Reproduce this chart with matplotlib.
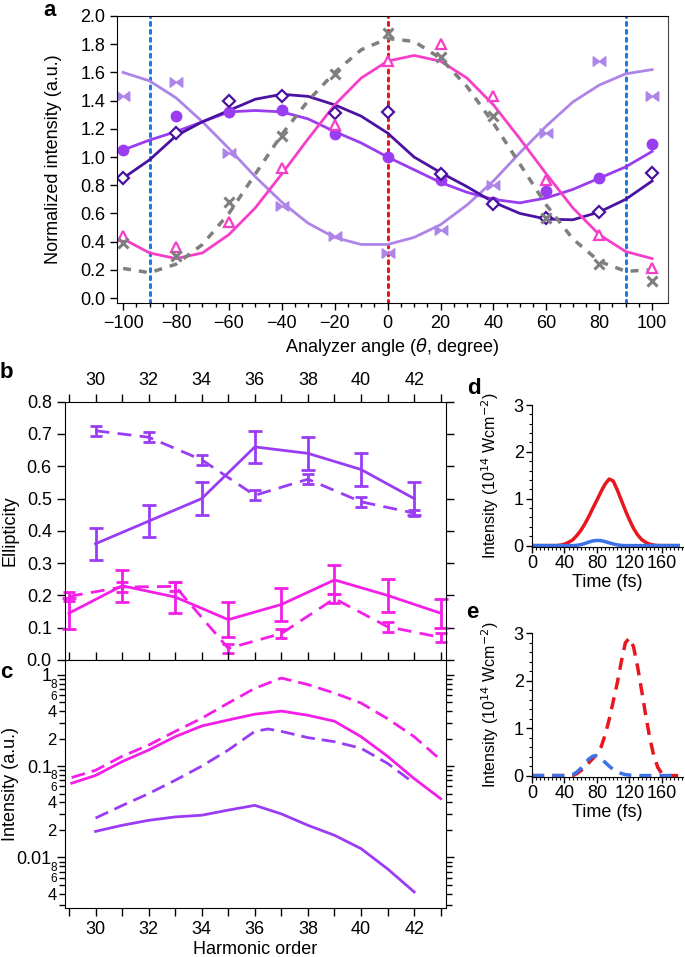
import numpy as np
import matplotlib
matplotlib.use('Agg')
from matplotlib import pyplot as plt
from matplotlib.path import Path

plt.rcParams['font.family'] = ['Liberation Sans', 'DejaVu Sans']
plt.rcParams['mathtext.fontset'] = 'dejavusans'

# ---------- panel a data ----------
theta_pts = [-100, -80, -60, -40, -20, 0, 20, 40, 60, 80, 100]
gray_pts = [0.39, 0.30, 0.68, 1.15, 1.59, 1.88, 1.71, 1.29, 0.57, 0.24, 0.12]
pink_pts = [0.44, 0.36, 0.54, 0.92, 1.23, 1.68, 1.80, 1.43, 0.84, 0.45, 0.21]
lav_pts = [1.43, 1.53, 1.03, 0.65, 0.44, 0.32, 0.48, 0.80, 1.17, 1.68, 1.43]
dark_pts = [0.85, 1.17, 1.40, 1.43, 1.31, 1.32, 0.88, 0.67, 0.57, 0.61, 0.89]
med_pts = [1.05, 1.29, 1.32, 1.33, 1.16, 1.00, 0.84, 0.68, 0.76, 0.85, 1.09]

theta_fit = [-100, -90, -80, -70, -60, -50, -40, -30, -20, -10, 0,
             10, 20, 30, 40, 50, 60, 70, 80, 90, 100]
gray_fit = [0.21, 0.18, 0.24, 0.38, 0.60, 0.88, 1.16, 1.40, 1.60, 1.76, 1.84,
            1.82, 1.70, 1.50, 1.24, 0.95, 0.66, 0.42, 0.26, 0.19, 0.20]
pink_fit = [0.42, 0.32, 0.28, 0.32, 0.45, 0.64, 0.88, 1.13, 1.37, 1.56, 1.68,
            1.72, 1.68, 1.56, 1.37, 1.13, 0.88, 0.64, 0.45, 0.33, 0.28]
lav_fit = [1.60, 1.54, 1.42, 1.25, 1.06, 0.86, 0.68, 0.53, 0.43, 0.38, 0.38,
           0.43, 0.52, 0.66, 0.83, 1.03, 1.22, 1.39, 1.51, 1.59, 1.62]
dark_fit = [0.85, 0.98, 1.15, 1.25, 1.33, 1.41, 1.445, 1.43, 1.37, 1.29, 1.17,
            1.00, 0.89, 0.79, 0.68, 0.60, 0.56, 0.555, 0.61, 0.70, 0.83]
med_fit = [1.05, 1.12, 1.18, 1.25, 1.32, 1.33, 1.32, 1.27, 1.18, 1.10, 1.00,
           0.91, 0.82, 0.75, 0.70, 0.675, 0.71, 0.77, 0.85, 0.93, 1.04]

# ---------- panel b data ----------
h_even = [30, 32, 34, 36, 38, 40, 42]
h_odd = [29, 31, 33, 35, 37, 39, 41, 43]
ell_p_solid = [0.36, 0.43, 0.50, 0.66, 0.64, 0.59, 0.50]
err_p_solid = [0.05, 0.05, 0.05, 0.05, 0.05, 0.05, 0.05]
ell_p_dash = [0.71, 0.69, 0.62, 0.51, 0.56, 0.49, 0.455]
err_p_dash = [0.015, 0.015, 0.015, 0.015, 0.015, 0.015, 0.01]
ell_m_solid = [0.145, 0.23, 0.195, 0.125, 0.172, 0.248, 0.20, 0.145]
err_m_solid = [0.048, 0.05, 0.048, 0.055, 0.052, 0.045, 0.052, 0.045]
ell_m_dash = [0.197, 0.226, 0.228, 0.036, 0.082, 0.19, 0.103, 0.07]
err_m_dash = [0.015, 0.015, 0.015, 0.015, 0.015, 0.015, 0.015, 0.015]

# ---------- panel c data ----------
hc_m = [29.1, 30, 31, 32, 33, 34, 35, 36, 37, 38, 39, 40, 41, 42, 43]
int_m_dash = [0.075, 0.090, 0.128, 0.17, 0.24, 0.334, 0.49, 0.71, 0.92, 0.78,
              0.63, 0.49, 0.33, 0.21, 0.117]
int_m_solid = [0.065, 0.079, 0.112, 0.15, 0.21, 0.275, 0.32, 0.37, 0.40, 0.36,
               0.31, 0.21, 0.128, 0.073, 0.044]
hc_p = [30, 31, 32, 33, 34, 35, 36, 36.5, 37, 38, 39, 40, 41, 42]
int_p_dash = [0.027, 0.037, 0.050, 0.070, 0.10, 0.15, 0.24, 0.255, 0.24, 0.205,
              0.185, 0.157, 0.107, 0.065]
hc_p2 = [30, 31, 32, 33, 34, 35, 36, 37, 38, 39, 40, 41, 42]
int_p_solid = [0.0193, 0.0225, 0.0255, 0.0278, 0.029, 0.033, 0.0372, 0.030,
               0.0225, 0.0175, 0.0125, 0.0075, 0.0042]

# ---------- panel d / e data ----------
t_red_d = [0, 30, 35, 40, 45, 50, 55, 60, 65, 70, 75, 80, 85, 90, 95, 100, 105,
           110, 115, 120, 125, 130, 135, 140, 145, 150, 155, 180]
red_d = [0, 0.0, 0.01, 0.03, 0.07, 0.12, 0.21, 0.32, 0.46, 0.62, 0.80, 0.97,
         1.15, 1.31, 1.42, 1.38, 1.19, 0.97, 0.75, 0.55, 0.37, 0.23, 0.13,
         0.07, 0.03, 0.01, 0.0, 0]
t_blue_d = [0, 50, 55, 60, 65, 70, 75, 80, 85, 90, 95, 100, 105, 110, 115, 180]
blue_d = [0, 0, 0.005, 0.02, 0.045, 0.075, 0.10, 0.11, 0.105, 0.085, 0.06,
          0.035, 0.015, 0.005, 0, 0]
t_red_e = [0, 50, 55, 60, 65, 70, 75, 80, 85, 90, 95, 100, 105, 110, 115, 120,
           125, 130, 135, 140, 145, 150, 155, 160, 165, 180]
red_e = [0, 0.0, 0.04, 0.10, 0.18, 0.27, 0.36, 0.45, 0.60, 0.85, 1.18, 1.56,
         1.95, 2.40, 2.80, 2.90, 2.72, 2.30, 1.80, 1.28, 0.80, 0.42, 0.17,
         0.04, 0.0, 0]
t_blue_e = [0, 45, 50, 55, 60, 65, 70, 75, 80, 85, 90, 95, 100, 105, 110, 115,
            120, 125, 180]
blue_e = [0, 0, 0.02, 0.07, 0.15, 0.25, 0.35, 0.41, 0.41, 0.36, 0.28, 0.20,
          0.13, 0.08, 0.045, 0.02, 0.01, 0.0, 0]

GRAY = '#7f7f7f'
PINK = '#f53fc8'
LAV = '#ad84e8'
DARK = '#4b12a2'
MED = '#9a3cf0'
PUR = '#9b3cf5'
MAG = '#f41ee8'
RED = '#e8161e'
BLUE = '#3d72e8'

bowtie = Path([(-1, -0.75), (-1, 0.75), (0, 0), (1, 0.75), (1, -0.75), (0, 0), (-1, -0.75)],
              [Path.MOVETO, Path.LINETO, Path.LINETO, Path.LINETO, Path.LINETO,
               Path.LINETO, Path.CLOSEPOLY])

W, H = 685, 957
fig = plt.figure(figsize=(W / 100, H / 100), dpi=100)


def box(l, t, r, b):
    return [l / W, 1 - b / H, (r - l) / W, (b - t) / H]


fs = 13

# ================= panel a =================
ax = fig.add_axes(box(117, 16, 668, 303))
ax.axvline(-90, color='#1f78e0', ls=(0, (1, 1.6)), lw=2.2, dash_capstyle='round', zorder=1)
ax.axvline(90, color='#1f78e0', ls=(0, (1, 1.6)), lw=2.2, dash_capstyle='round', zorder=1)
ax.axvline(0, color='#e8161e', ls=(0, (1, 1.6)), lw=2.2, dash_capstyle='round', zorder=1)

ax.plot(theta_fit, lav_fit, color=LAV, lw=2)
ax.plot(theta_fit, med_fit, color=MED, lw=2)
ax.plot(theta_fit, dark_fit, color=DARK, lw=2)
ax.plot(theta_fit, pink_fit, color=PINK, lw=2)
ax.plot(theta_fit, gray_fit, color=GRAY, lw=2.5, ls=(0, (2.3, 2.3)))

ax.plot(theta_pts, lav_pts, ls='none', marker=bowtie, ms=9, color=LAV)
ax.plot(theta_pts, med_pts, ls='none', marker='o', ms=7.5, color=MED)
ax.plot(theta_pts, dark_pts, ls='none', marker='D', ms=6, mfc='white', mec=DARK, mew=1.6)
ax.plot(theta_pts, pink_pts, ls='none', marker='^', ms=7, mfc='white', mec=PINK, mew=1.6)
ax.plot(theta_pts, gray_pts, ls='none', marker='x', ms=7, mew=2.2, color=GRAY)

ax.set_xlim(-102.3, 106)
ax.set_ylim(-0.035, 2.0)
ax.set_xticks(range(-100, 101, 20))
ax.set_xticks(range(-100, 101, 5), minor=True)
ax.set_yticks(np.arange(0, 2.01, 0.2))
ax.set_yticklabels(['%.1f' % v for v in np.arange(0, 2.01, 0.2)])
ax.tick_params(labelsize=fs, length=5, width=1)
ax.tick_params(which='minor', length=3, width=1)
ax.spines['right'].set_color('#444444')
ax.set_xlabel(r'Analyzer angle ($\theta$, degree)', fontsize=fs, labelpad=3)
ax.set_ylabel('Normalized intensity (a.u.)', fontsize=fs)
ax.yaxis.set_label_coords(-0.1, 0.5)

# ================= panel b =================
axb = fig.add_axes(box(65, 401.7, 446, 660))
axb.errorbar(h_even, ell_p_solid, yerr=err_p_solid, color=PUR, lw=2,
             elinewidth=2, capsize=5, capthick=2)
axb.errorbar(h_even, ell_p_dash, yerr=err_p_dash, color=PUR, lw=2, ls=(0, (5, 3)),
             elinewidth=2, capsize=4, capthick=2)
axb.errorbar(h_odd, ell_m_solid, yerr=err_m_solid, color=MAG, lw=2,
             elinewidth=2, capsize=5, capthick=2, clip_on=False)
axb.errorbar(h_odd, ell_m_dash, yerr=err_m_dash, color=MAG, lw=2, ls=(0, (5, 3)),
             elinewidth=2, capsize=4, capthick=2, clip_on=False)
axb.set_xlim(28.85, 43.2)
axb.set_ylim(0, 0.8)
axb.set_xticks(range(29, 44))
axb.set_xticklabels([str(h) if h % 2 == 0 else '' for h in range(29, 44)])
axb.set_yticks(np.arange(0, 0.81, 0.1))
axb.set_yticklabels(['%.1f' % v for v in np.arange(0, 0.81, 0.1)])
axb.tick_params(axis='x', bottom=False, top=True, labelbottom=False, labeltop=True,
                labelsize=fs, length=6, width=1)
axb.tick_params(axis='y', left=True, right=True, labelsize=fs, length=6, width=1)
axb.set_ylabel('Ellipticity', fontsize=fs)
axb.yaxis.set_label_coords(-0.121, 0.5)

# ================= panel c =================
axc = fig.add_axes(box(65, 660, 446, 908))
axc.plot(hc_m, int_m_dash, color=MAG, lw=2, ls=(0, (5, 2.5)))
axc.plot(hc_m, int_m_solid, color=MAG, lw=2)
axc.plot(hc_p, int_p_dash, color=PUR, lw=2, ls=(0, (5, 2.5)))
axc.plot(hc_p2, int_p_solid, color=PUR, lw=2)
axc.set_yscale('log')
axc.set_xlim(28.85, 43.2)
axc.set_ylim(0.0028, 1.45)
axc.set_xticks(range(29, 44))
axc.set_xticklabels([str(h) if h % 2 == 0 else '' for h in range(29, 44)])
axc.set_yticks([0.01, 0.1, 1])
axc.set_yticklabels(['0.01', '0.1', '1'])
minor_pos = []
minor_lab = []
for dec in [0.001, 0.01, 0.1]:
    for m in range(2, 10):
        v = m * dec
        if 0.0028 <= v <= 1.45:
            minor_pos.append(v)
            minor_lab.append(str(m) if m % 2 == 0 else '')
axc.set_yticks(minor_pos, minor=True)
axc.set_yticklabels(minor_lab, minor=True)
axc.tick_params(axis='y', which='major', left=True, right=True, labelsize=fs, length=6, width=1)
axc.tick_params(axis='y', which='minor', left=True, right=True, labelsize=fs - 1, length=4, width=1, pad=2)
for lab in axc.get_yticklabels(minor=True):
    if lab.get_text() in ('6', '8'):
        lab.set_fontsize(8.5)
axc.tick_params(axis='x', top=True, direction='out', labelsize=fs, length=6, width=1)
axc.tick_params(axis='x', which='minor', bottom=False, top=False)
axc.set_xlabel('Harmonic order', fontsize=fs, labelpad=2)
axc.set_ylabel('Intensity (a.u.)', fontsize=fs)
axc.yaxis.set_label_coords(-0.121, 0.5)


# ================= panel d / e =================
def pulse_axes(t, b):
    a = fig.add_axes(box(532, t, 683, b))
    a.set_xlim(0, 186)
    a.set_ylim(-0.03, 3.0)
    a.spines['top'].set_visible(False)
    a.spines['right'].set_visible(False)
    a.set_xticks([0, 40, 80, 120, 160])
    a.set_xticks(range(0, 186, 5), minor=True)
    a.set_yticks([0, 1, 2, 3])
    a.set_yticks(np.arange(0, 3.01, 0.2), minor=True)
    a.tick_params(labelsize=fs, length=4, width=1, pad=2)
    a.tick_params(which='minor', length=2.5, width=0.8)
    a.set_xlabel('Time (fs)', fontsize=fs, labelpad=1)
    a.set_ylabel('Intensity (10$^{14}$ Wcm$^{-2}$)', fontsize=11.5)
    a.yaxis.set_label_coords(-0.205, 0.5)
    return a


axd = pulse_axes(405, 547)
axd.plot(t_red_d, red_d, color=RED, lw=2.5)
axd.plot(t_blue_d, blue_d, color=BLUE, lw=2.5)

axe = pulse_axes(633.3, 777)
axe.plot(t_red_e, red_e, color=RED, lw=2.5, ls=(0, (3.5, 2.3)))
axe.plot(t_blue_e, blue_e, color=BLUE, lw=2.5, ls=(0, (3.5, 2.3)))

# panel letters
for letter, x, y in [('a', 50, 11), ('b', 6, 372), ('c', 6, 672), ('d', 474, 389), ('e', 472, 613)]:
    fig.text(x / W, 1 - y / H, letter, fontsize=16, fontweight='bold', ha='center', va='center')

fig.savefig('out.png', dpi=100)
